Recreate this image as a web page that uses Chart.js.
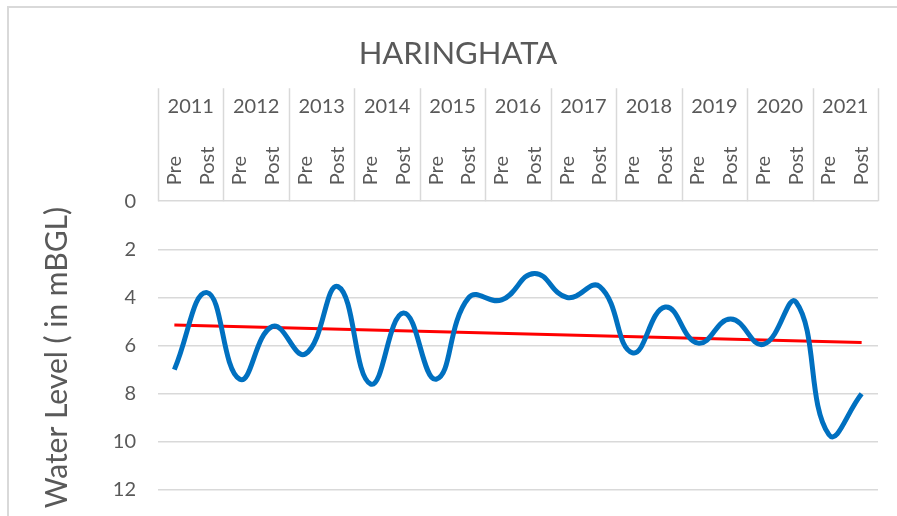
<!DOCTYPE html>
<html lang="en">
<head>
<meta charset="UTF-8">
<title>HARINGHATA - Water Level</title>
<script src="https://cdn.jsdelivr.net/npm/chart.js"></script>
<style>
  html, body { margin: 0; padding: 0; background: #fff; overflow: hidden; }
  /* grey chart frame, its right and bottom edge fall outside the picture */
  .frame { position: absolute; left: 7px; top: 6px; width: 1000px; height: 1000px;
           border-left: 2px solid #d9d9d9; border-top: 2px solid #d9d9d9; }
  #chart { position: absolute; left: 0; top: 0; }
</style>
</head>
<body>
<div class="frame"></div>
<canvas id="chart" width="897" height="516"></canvas>
<script>
// data
const years = ['2011', '2012', '2013', '2014', '2015', '2016', '2017', '2018', '2019', '2020', '2021'];
const seasons = ['Pre', 'Post'];
const waterLevel = [7.0, 3.8, 7.4, 5.2, 6.35, 3.55, 7.6, 4.65, 7.4, 4.0, 4.1,
                    3.0, 4.0, 3.55, 6.3, 4.4, 5.9, 4.9, 5.95, 4.2, 9.7, 8.0];
// linear trend line, ends
const trendStart = 5.15;
const trendEnd = 5.87;
const yTicks = [0, 2, 4, 6, 8, 10, 12];

const periods = [];
years.forEach(() => seasons.forEach(s => periods.push(s)));
const trend = periods.map((p, i) => i === 0 ? trendStart : (i === periods.length - 1 ? trendEnd : null));

const grey = '#595959';
const gridGrey = '#d9d9d9';
Chart.defaults.font.family = 'Lato, "Open Sans", sans-serif';
Chart.defaults.color = grey;

// year separators running through both header rows
const yearDividers = {
    id: 'yearDividers',
    afterDraw(chart) {
        const x = chart.scales.x;
        const top = chart.scales.years.top;
        const ctx = chart.ctx;
        ctx.save();
        ctx.strokeStyle = gridGrey;
        ctx.lineWidth = 1.5;
        ctx.beginPath();
        for (let k = 0; k <= years.length; k++) {
            const px = Math.round(x.getPixelForValue(2 * k - 0.5)) + 0.5;
            ctx.moveTo(px, top);
            ctx.lineTo(px, x.bottom);
        }
        ctx.stroke();
        ctx.restore();
    }
};

new Chart(document.getElementById('chart'), {
    type: 'line',
    data: {
        labels: periods,
        datasets: [{
            data: waterLevel,
            borderColor: '#0070C0',
            borderWidth: 5,
            tension: 0.45,
            pointRadius: 0,
            fill: false
        }, {
            data: trend,
            borderColor: '#FF0000',
            borderWidth: 3,
            spanGaps: true,
            tension: 0,
            pointRadius: 0,
            fill: false
        }]
    },
    options: {
        responsive: false,
        animation: false,
        devicePixelRatio: 1,
        // left padding only so the title centres like the original frame
        layout: { padding: { left: 38, right: 19, top: 0, bottom: 2 } },
        plugins: {
            legend: { display: false },
            tooltip: { enabled: false },
            title: {
                display: true,
                text: 'HARINGHATA',
                color: grey,
                font: { size: 31, weight: 'normal' },
                padding: { top: 35, bottom: 16 }
            }
        },
        scales: {
            x: {
                type: 'category',
                position: 'top',
                offset: true,
                weight: 0,
                grid: { display: false },
                border: { display: false },
                ticks: {
                    autoSkip: false,
                    minRotation: 90,
                    maxRotation: 90,
                    padding: 8,
                    labelOffset: 24,
                    color: grey,
                    font: { size: 20 }
                },
                afterFit(s) { s.height = 64; s.paddingLeft = 0; s.paddingRight = 0; }
            },
            years: {
                type: 'category',
                labels: years,
                position: 'top',
                offset: true,
                weight: 1,
                grid: { display: false },
                border: { display: false },
                ticks: { autoSkip: false, maxRotation: 0, padding: 11, color: grey, font: { size: 20 } },
                afterFit(s) { s.height = 49; s.paddingLeft = 0; s.paddingRight = 0; }
            },
            y: {
                reverse: true,
                min: 0,
                max: 13,
                afterBuildTicks(s) { s.ticks = yTicks.map(v => ({ value: v })); },
                grid: { color: gridGrey, lineWidth: 1.5, drawTicks: false },
                border: { display: false },
                ticks: { padding: 22, color: grey, font: { size: 20 } },
                title: {
                    display: true,
                    text: 'Water Level ( in mBGL)',
                    color: grey,
                    font: { size: 30 },
                    padding: { top: 1, bottom: 0 }
                },
                afterFit(s) { s.width = 120; s.paddingTop = 0; s.paddingBottom = 0; }
            }
        }
    },
    plugins: [yearDividers]
});
</script>
</body>
</html>
